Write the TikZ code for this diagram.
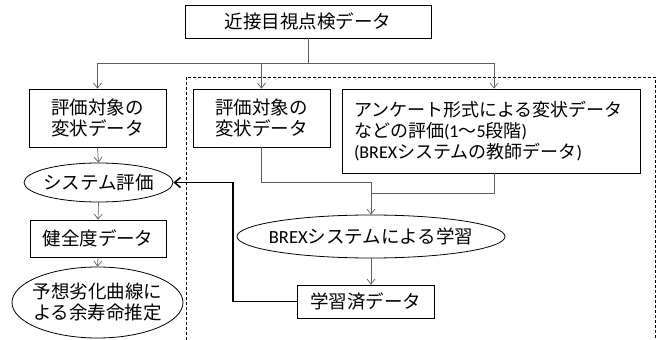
\documentclass[tikz,border=0pt]{standalone}
\usepackage{fontspec}
\setmainfont{Noto Sans CJK JP}
\newfontfamily\lat{Carlito}
\usetikzlibrary{shapes.geometric,arrows.meta}
\definecolor{cn}{RGB}{95,95,95}
\begin{document}
\begin{tikzpicture}[x=1pt,y=-1pt,
  box/.style={draw=black,line width=0.8pt,inner sep=0pt,align=center,font=\fontsize{18.5pt}{21pt}\selectfont},
  ell/.style={draw=black,ellipse,line width=0.8pt,inner sep=0pt},
  txt/.style={inner sep=0pt,align=center,font=\fontsize{18.5pt}{21pt}\selectfont},
  ln/.style={draw=cn,line width=0.7pt},
  conn/.style={ln,-{Straight Barb[length=5pt,width=8pt]}},
  fb/.style={draw=black,line width=1.5pt,-{Straight Barb[length=6pt,width=10pt]}},
  dsh/.style={draw=black,line width=0.7pt,dash pattern=on 3pt off 2pt}
]
\useasboundingbox (0,0) rectangle (657,340);
% dashed region
\draw[dsh] (186,340) -- (186,77) -- (655,77) -- (655,340);
% nodes
\node[box,minimum width=246pt,minimum height=33pt] (top) at (308,21.5) {近接目視点検データ};
\node[box,minimum width=137pt,minimum height=58pt] (l1) at (97.5,118) {評価対象の\\変状データ};
\node[box,minimum width=137pt,minimum height=58pt] (m1) at (261.5,118) {評価対象の\\変状データ};
\node[box,minimum width=298pt,minimum height=84pt,text width=274pt,inner xsep=12pt,align=left,font=\fontsize{18pt}{21pt}\selectfont] (r1) at (491,131)
  {アンケート形式による変状データ\\などの評価{\lat(1}〜{\lat5}段階{\lat)}\\{\lat(BREX}システムの教師データ{\lat)}};
\node[ell,minimum width=149pt,minimum height=39pt] (e1) at (98.5,182.5) {};
\node[txt] (e1t) at (e1) {システム評価};
\node[box,minimum width=136pt,minimum height=37pt] (l2) at (98,238.5) {健全度データ};
\node[ell,minimum width=171pt,minimum height=71pt] (e2) at (97.5,302.5) {};
\node[txt] (e2t) at (e2) {予想劣化曲線に\\よる余寿命推定};
\node[ell,minimum width=268pt,minimum height=43pt] (e3) at (371,236.5) {};
\node[txt] (e3t) at (e3) {{\lat BREX}システムによる学習};
\node[box,minimum width=137pt,minimum height=33pt] (b) at (365.5,301.5) {学習済データ};
% coordinates
\coordinate (j) at (308,63);
\coordinate (jl) at (97.5,63);
\coordinate (jm) at (261.5,63);
\coordinate (jr) at (494,63);
\coordinate (mj) at (371,182);
\coordinate (rj) at (371,193);
\coordinate (t) at (233,182.5);
% connectors
\draw[ln] (top.south) -- (j);
\draw[ln] (jl) -- (jr);
\draw[conn] (jl) -- (l1.north);
\draw[conn] (jm) -- (m1.north);
\draw[conn] (jr) -- (jr |- r1.north);
\draw[conn] (l1.south) -- (e1.north);
\draw[conn] (e1.south) -- (l2.north);
\draw[conn] (l2.south) -- (e2.north);
\draw[ln] (m1.south) |- (mj);
\draw[ln] (r1.south -| jr) |- (rj);
\draw[conn] (mj) -- (e3.north);
\draw[conn] (e3.south) -- (e3.south |- b.north);
\draw[fb] (b.west) -| (t) -- (e1.east);
\end{tikzpicture}
\end{document}
